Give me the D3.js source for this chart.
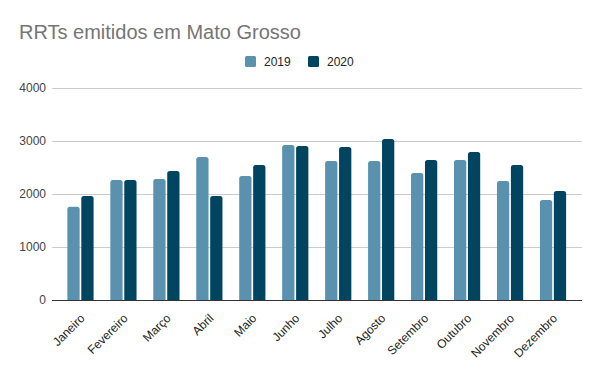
<!DOCTYPE html>
<html><head><meta charset="utf-8">
<script src="https://cdnjs.cloudflare.com/ajax/libs/d3/7.8.5/d3.min.js"></script>
<style>body{margin:0;background:#fff}svg{display:block;font-family:"Liberation Sans",Arial,sans-serif}</style>
</head><body>
<script>
const months = ["Janeiro","Fevereiro","Março","Abril","Maio","Junho","Julho","Agosto","Setembro","Outubro","Novembro","Dezembro"];
const series = ["2019","2020"];
const values2019 = [1760,2264,2283,2698,2340,2925,2623,2623,2396,2642,2245,1887];
const values2020 = [1962,2264,2434,1962,2547,2906,2887,3038,2642,2792,2547,2057];
const yTicks = [0,1000,2000,3000,4000];
const colors = ["#5991af","#00445f"];

const W=600,H=371;
const svg=d3.select("body").append("svg").attr("width",W).attr("height",H);
const x=d3.scaleBand().domain(months).range([59,574.5]).paddingInner(0.39).paddingOuter(0.195);
const x1=d3.scaleBand().domain(series).range([0,x.bandwidth()]).paddingInner(0.12);
const y=d3.scaleLinear().domain([0,4000]).range([300,88]);

// grid
svg.append("g").selectAll("line").data(yTicks.filter(d=>d>0)).join("line")
  .attr("x1",52).attr("x2",582).attr("y1",d=>y(d)+0.5).attr("y2",d=>y(d)+0.5)
  .attr("stroke","#cccccc").attr("stroke-width",1);

// y labels
const ya=svg.append("g").attr("transform","translate(46,0)").call(d3.axisLeft(y).tickValues(yTicks).tickFormat(d3.format("d")).tickSize(0).tickPadding(0));
ya.select(".domain").remove();
ya.selectAll("text").attr("font-size",12).attr("fill","#444").attr("font-family","'Liberation Sans',Arial,sans-serif");

// bars
const data=months.map((m,i)=>({m,vals:[values2019[i],values2020[i]]}));
function barPath(x0,w,yt,yb,r){
  r=Math.min(r,w/2,yb-yt);
  return `M${x0},${yb}V${yt+r}Q${x0},${yt} ${x0+r},${yt}H${x0+w-r}Q${x0+w},${yt} ${x0+w},${yt+r}V${yb}Z`;
}
const g=svg.append("g");
data.forEach(d=>{
  series.forEach((s,j)=>{
    const xx=x(d.m)+x1(s);
    g.append("path").attr("d",barPath(xx,x1.bandwidth(),y(d.vals[j]),y(0),2.5)).attr("fill",colors[j]);
  });
});

// x axis
svg.append("line").attr("x1",52).attr("x2",582).attr("y1",300.5).attr("y2",300.5).attr("stroke","#333").attr("stroke-width",1);
const xa=svg.append("g").attr("transform","translate(0,300)").call(d3.axisBottom(x).tickSize(0).tickPadding(0));
xa.select(".domain").remove();
xa.selectAll("text").attr("font-size",12).attr("fill","#222").attr("font-family","'Liberation Sans',Arial,sans-serif")
  .attr("text-anchor","end").attr("dy",null).attr("y",0)
  .attr("transform","translate(5,19) rotate(-45)");

// title
svg.append("text").attr("x",19).attr("y",39).attr("font-size",20).attr("fill","#757575").text("RRTs emitidos em Mato Grosso");

// legend
const leg=svg.append("g");
const lx=[245,308];
series.forEach((s,j)=>{
  leg.append("rect").attr("x",lx[j]).attr("y",56).attr("width",11).attr("height",11).attr("rx",1.5).attr("fill",colors[j]);
  leg.append("text").attr("x",lx[j]+19).attr("y",66).attr("font-size",12).attr("fill","#222").text(s);
});
</script>
</body></html>
